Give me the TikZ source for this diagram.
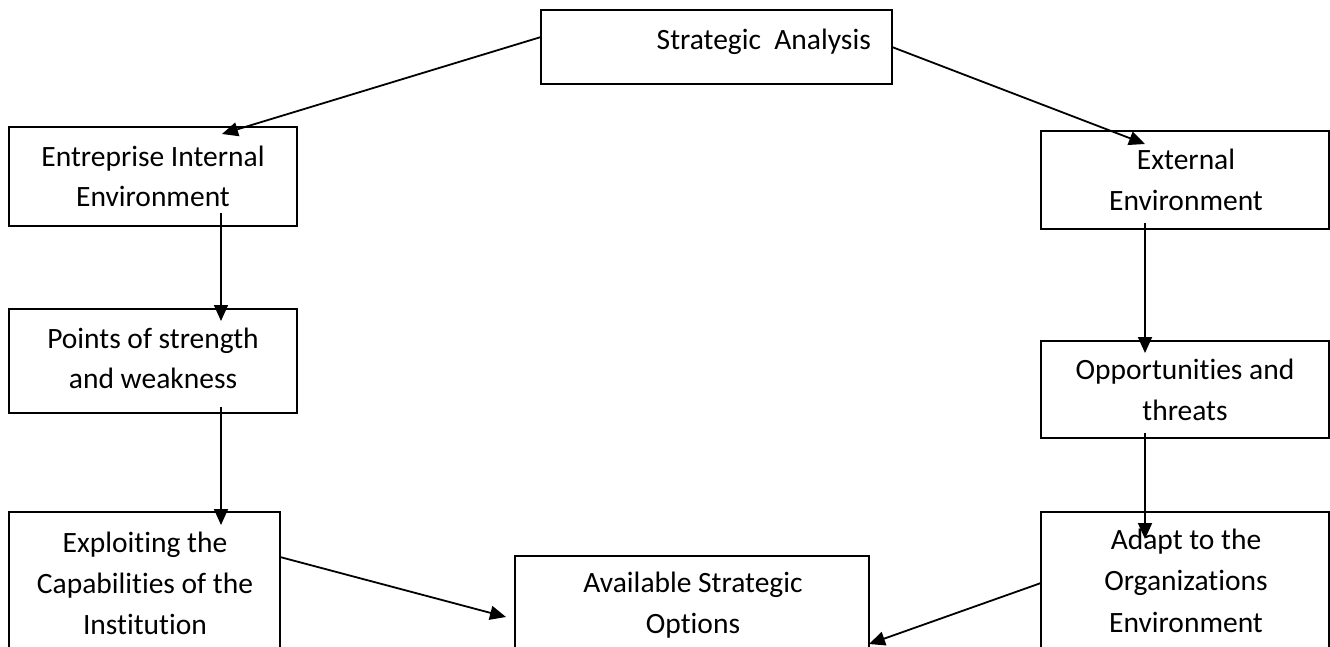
\documentclass[tikz,border=0pt]{standalone}
\usepackage{fontspec}
\setmainfont{Carlito}[Ligatures=NoCommon]
\usetikzlibrary{arrows.meta}
\begin{document}
\begin{tikzpicture}[x=1pt,y=-1pt,
  box/.style={draw=black,line width=2pt,inner sep=0pt,outer sep=0pt,rectangle},
  txt/.style={anchor=base,inner sep=0pt,font=\fontsize{29.5}{40}\selectfont},
  conn/.style={draw=black,line width=1.8pt,-{Triangle[length=16pt,width=14pt]}}]
\useasboundingbox (0,0) rectangle (1330,647);
% boxes
\node[box,minimum width=351pt,minimum height=74pt] (sa) at (716.5,47) {};
\node[box,minimum width=288pt,minimum height=99pt] (ie) at (153,176.5) {};
\node[box,minimum width=288pt,minimum height=98pt] (ee) at (1185,180) {};
\node[box,minimum width=288pt,minimum height=104pt] (ps) at (153,361) {};
\node[box,minimum width=288pt,minimum height=97pt] (ot) at (1185,389.5) {};
\node[box,minimum width=271pt,minimum height=188pt] (ex) at (144.5,606) {};
\node[box,minimum width=354pt,minimum height=144pt] (av) at (692,628) {};
\node[box,minimum width=288pt,minimum height=188pt] (ad) at (1185,606) {};
% texts
\node[txt,anchor=base east] (t-sa) at (871,50) {Strategic\ \ Analysis};
\node[txt] (t-ie1) at (153,167) {Entreprise Internal};
\node[txt] (t-ie2) at (153,207) {Environment};
\node[txt] (t-ee1) at (1186,170) {External};
\node[txt] (t-ee2) at (1186,211) {Environment};
\node[txt] (t-ps1) at (153,348) {Points of strength};
\node[txt] (t-ps2) at (153,388) {and weakness};
\node[txt] (t-ot1) at (1185,379) {Opportunities and};
\node[txt] (t-ot2) at (1185,420) {threats};
\node[txt] (t-ex1) at (145,552) {Exploiting the};
\node[txt] (t-ex2) at (145,593) {Capabilities of the};
\node[txt] (t-ex3) at (145,634) {Institution};
\node[txt] (t-av1) at (693,592) {Available Strategic};
\node[txt] (t-av2) at (693,633) {Options};
\node[txt] (t-ad1) at (1186,549) {Adapt to the};
\node[txt] (t-ad2) at (1186,590) {Organizations};
\node[txt] (t-ad3) at (1186,632) {Environment};
% connector end points
\coordinate (sa-l) at (541,37);
\coordinate (sa-r) at (892,47);
\coordinate (ie-in) at (222,134);
\coordinate (ee-in) at (1145,144);
\coordinate (ie-out) at (221,213);
\coordinate (ps-in) at (221,321);
\coordinate (ps-out) at (221,407);
\coordinate (ex-in) at (221,525);
\coordinate (ee-out) at (1145,223);
\coordinate (ot-in) at (1145,353);
\coordinate (ot-out) at (1145,433);
\coordinate (ad-in) at (1145,539);
\coordinate (ex-r) at (280,557);
\coordinate (av-l) at (506,617);
\coordinate (ad-l) at (1041,583);
\coordinate (av-r) at (869,644);
% connectors
\draw[conn] (sa-l) -- (ie-in);
\draw[conn] (sa-r) -- (ee-in);
\draw[conn] (ie-out) -- (ps-in);
\draw[conn] (ps-out) -- (ex-in);
\draw[conn] (ee-out) -- (ot-in);
\draw[conn] (ot-out) -- (ad-in);
\draw[conn] (ex-r) -- (av-l);
\draw[conn] (ad-l) -- (av-r);
\end{tikzpicture}
\end{document}
